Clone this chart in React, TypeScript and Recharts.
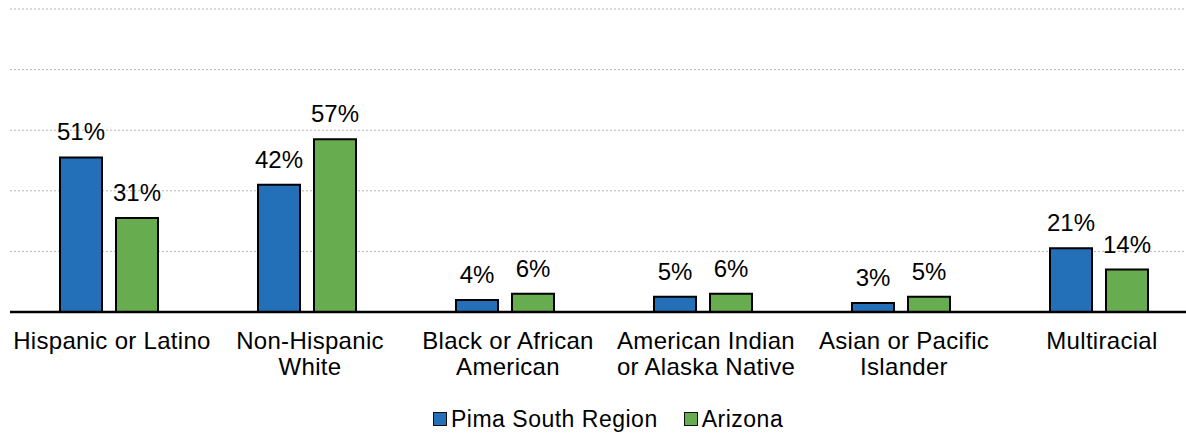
import { BarChart, Bar, XAxis, YAxis, CartesianGrid, Legend, LabelList } from "recharts"

const categories = [
  "Hispanic or Latino",
  "Non-Hispanic\nWhite",
  "Black or African\nAmerican",
  "American Indian\nor Alaska Native",
  "Asian or Pacific\nIslander",
  "Multiracial",
]
const pimaSouth = [51, 42, 4, 5, 3, 21]
const arizona = [31, 57, 6, 6, 5, 14]
const yTicks = [0, 20, 40, 60, 80, 100]

const BLUE = "#2370b8"
const GREEN = "#67ad4f"
const FONT = "'Liberation Sans', Arial, sans-serif"

const data = categories.map((name, i) => ({
  name,
  pima: pimaSouth[i],
  az: arizona[i],
}))

function CategoryTick({ x, y, payload }: any) {
  const lines = String(payload.value).split("\n")
  return (
    <text
      x={x + 3}
      y={y}
      textAnchor="middle"
      fontSize={24}
      fontFamily={FONT}
      fill="#000"
      letterSpacing={0.3}
    >
      {lines.map((line, i) => (
        <tspan key={i} x={x + 3} y={y + 37 + i * 26}>
          {line}
        </tspan>
      ))}
    </text>
  )
}

function LegendBox() {
  const items = [
    { label: "Pima South Region", color: BLUE },
    { label: "Arizona", color: GREEN },
  ]
  return (
    <div style={{ display: "flex", alignItems: "center", fontFamily: FONT }}>
      {items.map((it) => (
        <div
          key={it.label}
          style={{ display: "flex", alignItems: "center", marginRight: 26 }}
        >
          <span
            style={{
              width: 12,
              height: 12,
              background: it.color,
              border: "1.5px solid #111",
              marginRight: 4,
            }}
          />
          <span
            style={{
              fontSize: 23,
              lineHeight: "24px",
              letterSpacing: 0.5,
              color: "#000",
            }}
          >
            {it.label}
          </span>
        </div>
      ))}
    </div>
  )
}

export default function App() {
  return (
    <div
      style={{
        position: "absolute",
        left: 0,
        top: 0,
        width: 1186,
        height: 436,
        overflow: "hidden",
        background: "#fff",
      }}
    >
      <BarChart
        width={1198}
        height={436}
        data={data}
        margin={{ top: 9, left: 10, right: 0, bottom: 0 }}
        barSize={42}
        barGap={14}
      >
        <CartesianGrid
          horizontal
          vertical={false}
          stroke="#b4b4b4"
          strokeDasharray="2 2"
        />
        <YAxis hide domain={[0, 100]} ticks={yTicks} />
        <XAxis
          dataKey="name"
          interval={0}
          height={124}
          tickLine={false}
          tickSize={0}
          tickMargin={0}
          axisLine={{ stroke: "#000", strokeWidth: 2.5 }}
          tick={<CategoryTick />}
        />
        <Legend
          layout="horizontal"
          verticalAlign="middle"
          align="center"
          content={<LegendBox />}
          wrapperStyle={{ top: 407, left: 433, width: 500, height: 24 }}
        />
        <Bar
          dataKey="pima"
          name="Pima South Region"
          fill={BLUE}
          stroke="#000"
          strokeWidth={2}
          isAnimationActive={false}
        >
          <LabelList
            dataKey="pima"
            position="top"
            offset={17}
            formatter={(v: any) => `${v}%`}
            fontSize={24}
            fontFamily={FONT}
            fill="#000"
          />
        </Bar>
        <Bar
          dataKey="az"
          name="Arizona"
          fill={GREEN}
          stroke="#000"
          strokeWidth={2}
          isAnimationActive={false}
        >
          <LabelList
            dataKey="az"
            position="top"
            offset={17}
            formatter={(v: any) => `${v}%`}
            fontSize={24}
            fontFamily={FONT}
            fill="#000"
          />
        </Bar>
      </BarChart>
    </div>
  )
}
